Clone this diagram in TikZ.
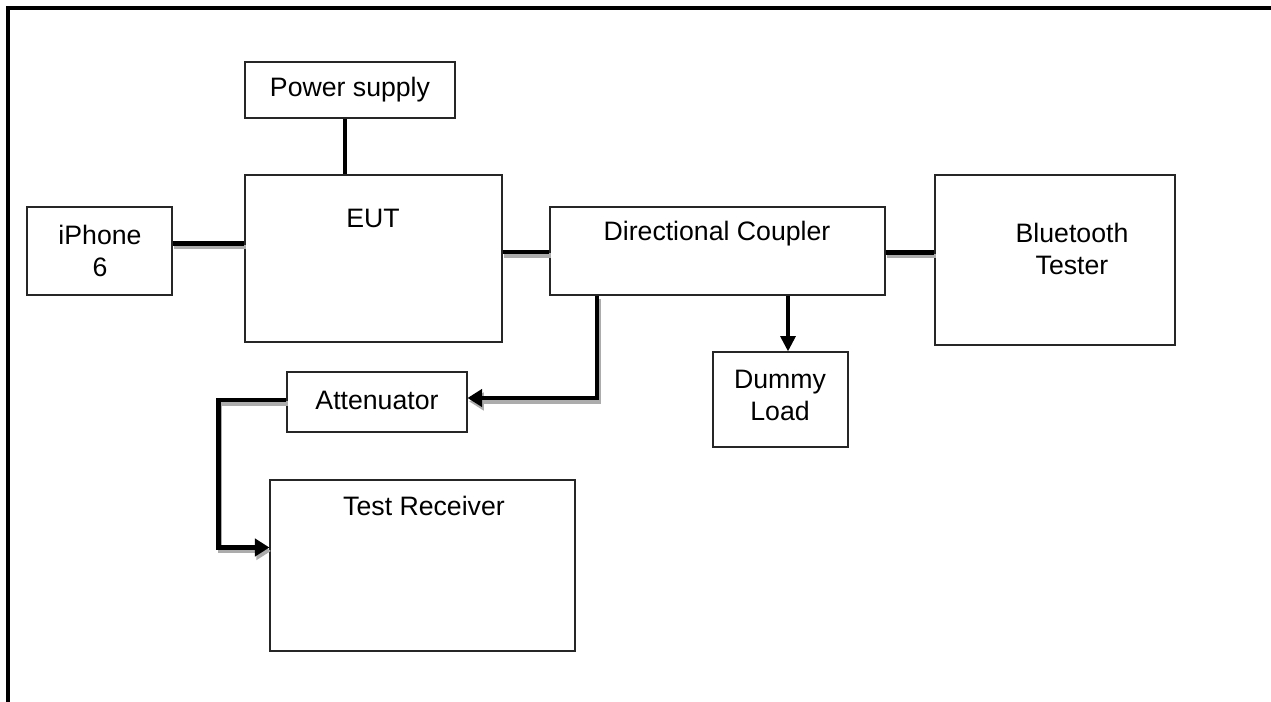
\documentclass[tikz,border=0pt]{standalone}
\usepackage{fontspec}
\setmainfont{Liberation Sans}
\usetikzlibrary{arrows.meta}
\tikzset{
  box/.style={draw=black!85, line width=0.8pt, inner sep=0pt},
  lbl/.style={font=\fontsize{20}{24}\selectfont, inner sep=0pt, align=center},
  conn/.style={line width=3.6pt, draw=black,
    preaction={draw=gray!65, line width=3.2pt, transform canvas={xshift=1.2pt,yshift=-2.6pt}}},
  plain/.style={line width=3.6pt, draw=black},
  tip/.style={-{Triangle[width=13pt,length=11pt]}},
  tipd/.style={-{Triangle[width=11pt,length=11.5pt]}}
}
\begin{document}
\begin{tikzpicture}[x=0.75pt,y=-0.75pt]
\useasboundingbox (0,0) rectangle (1271,702);
\fill[white] (0,0) rectangle (1271,702);
% frame
\draw[line width=3pt, line cap=rect] (8,702) -- (8,8) -- (1271,8);

% boxes
\node[box, minimum width=210*0.75pt, minimum height=56*0.75pt]  (ps)     at (350,90) {};
\node[box, minimum width=257*0.75pt, minimum height=167*0.75pt] (eut)    at (373.5,258.5) {};
\node[box, minimum width=145*0.75pt, minimum height=88*0.75pt]  (iphone) at (99.5,251) {};
\node[box, minimum width=335*0.75pt, minimum height=88*0.75pt]  (dc)     at (717.5,251) {};
\node[box, minimum width=240*0.75pt, minimum height=170*0.75pt] (bt)     at (1055,260) {};
\node[box, minimum width=135*0.75pt, minimum height=95*0.75pt]  (dl)     at (780.5,399.5) {};
\node[box, minimum width=180*0.75pt, minimum height=60*0.75pt]  (att)    at (377,402) {};
\node[box, minimum width=305*0.75pt, minimum height=171*0.75pt] (tr)     at (422.5,565.5) {};

% labels
\node[lbl, anchor=base] (psT)  at (350,97) {Power supply};
\node[lbl, anchor=base] (eutT) at (373,228) {EUT};
\node[lbl, anchor=north] (iphoneT) at (100,225) {iPhone\\6};
\node[lbl, anchor=base] (dcT)  at (717,241) {Directional Coupler};
\node[lbl, anchor=north] (btT) at (1072,223) {Bluetooth\\Tester};
\node[lbl, anchor=north] (dlT) at (780,370) {Dummy\\Load};
\node[lbl, anchor=base] (attT) at (377,409) {Attenuator};
\node[lbl, anchor=base] (trT)  at (424,515) {Test Receiver};

% helper coordinates
\coordinate (xP) at (345,0);
\coordinate (yA) at (0,243.5);
\coordinate (yB) at (0,252);
\coordinate (yC) at (0,252.5);
\coordinate (xV) at (597,0);
\coordinate (yD) at (0,398);
\coordinate (xL) at (218.5,0);
\coordinate (yE) at (0,400);
\coordinate (yF) at (0,547.5);
\coordinate (xM) at (788,0);

% connectors
\draw[plain] (ps.south -| xP) -- (eut.north -| xP);
\draw[conn] (iphone.east |- yA) -- (eut.west |- yA);
\draw[conn] (eut.east |- yB) -- (dc.west |- yB);
\draw[conn] (dc.east |- yC) -- (bt.west |- yC);
\draw[plain, tipd] (dc.south -| xM) -- (dl.north -| xM);
\draw[conn, tip] (dc.south -| xV) -- (xV |- yD) -- (att.east |- yD);
\draw[conn, tip] (att.west |- yE) -- (xL |- yE) -- (xL |- yF) -- (tr.west |- yF);
\end{tikzpicture}
\end{document}
